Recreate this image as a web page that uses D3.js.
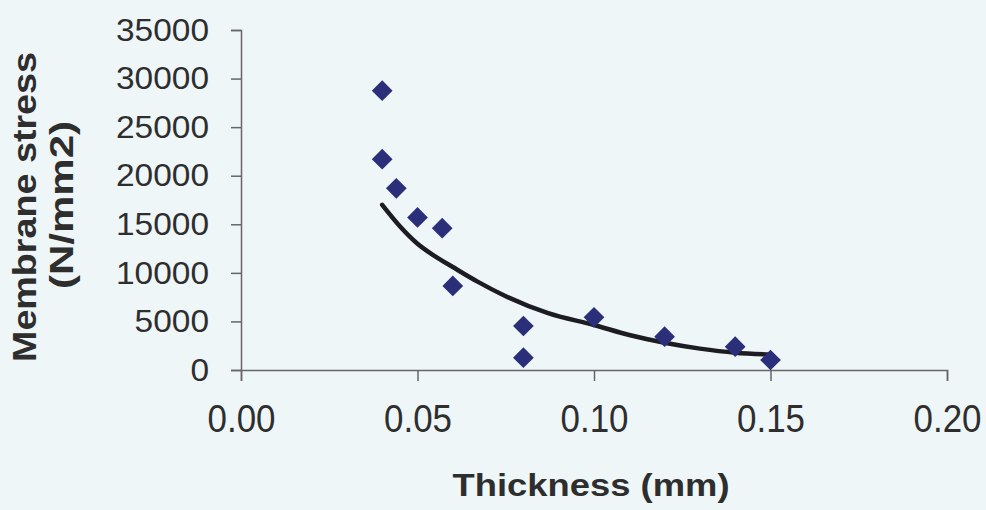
<!DOCTYPE html>
<html>
<head>
<meta charset="utf-8">
<script src="https://cdn.jsdelivr.net/npm/d3@7/dist/d3.min.js"></script>
<style>
  html, body { margin: 0; padding: 0; background: #eff6f8; }
  svg { display: block; }
</style>
</head>
<body>
<div id="chart"></div>
<script>
// ---- data ----
const thickness = [0.04, 0.04, 0.044, 0.05, 0.057, 0.06, 0.08, 0.08, 0.10, 0.12, 0.14, 0.15];
const stress    = [28750, 21700, 18700, 15700, 14600, 8650, 4530, 1270, 5420, 3430, 2400, 1030];
// trend line
const trendX = [0.04, 0.045, 0.05, 0.055, 0.06, 0.067, 0.075, 0.087, 0.10, 0.11, 0.12, 0.13, 0.14, 0.15];
const trendY = [17000, 14800, 13000, 11700, 10600, 9100, 7600, 5850, 4630, 3600, 2800, 2200, 1780, 1600];
const xTicks = [0.00, 0.05, 0.10, 0.15, 0.20];
const yTicks = [0, 5000, 10000, 15000, 20000, 25000, 30000, 35000];
const xTitle = "Thickness (mm)";
const yTitle1 = "Membrane stress";
const yTitle2 = "(N/mm2)";

const W = 986, H = 510;
const svg = d3.select("#chart").append("svg").attr("width", W).attr("height", H);
svg.append("rect").attr("width", W).attr("height", H).attr("fill", "#eff6f8");

const x = d3.scaleLinear().domain([0, 0.20]).range([241, 947]);
const y = d3.scaleLinear().domain([0, 35000]).range([370, 30]);

const axisColor = "#666";
const font = "Liberation Sans, Arial, sans-serif";

// y axis
const yAxis = svg.append("g").attr("transform", `translate(${x(0)},0)`)
  .call(d3.axisLeft(y).tickValues(yTicks).tickSize(10).tickPadding(22).tickFormat(d3.format("d")));
yAxis.select(".domain").attr("stroke", axisColor).attr("stroke-width", 1.5);
yAxis.selectAll(".tick line").attr("stroke", axisColor).attr("stroke-width", 1.5);
yAxis.selectAll(".tick text")
  .attr("fill", "#2e2e2e").attr("font-family", font)
  .attr("font-size", 32)
  .attr("textLength", d => String(d).length * 18.6)
  .attr("lengthAdjust", "spacingAndGlyphs");

// x axis
const xAxis = svg.append("g").attr("transform", `translate(0,${y(0)})`)
  .call(d3.axisBottom(x).tickValues(xTicks).tickSize(11).tickPadding(24).tickFormat(d3.format(".2f")));
xAxis.select(".domain").attr("stroke", axisColor).attr("stroke-width", 1.5);
xAxis.selectAll(".tick line").attr("stroke", axisColor).attr("stroke-width", 1.5);
xAxis.selectAll(".tick text")
  .attr("fill", "#2e2e2e").attr("font-family", font)
  .attr("font-size", 38)
  .attr("textLength", 68)
  .attr("lengthAdjust", "spacingAndGlyphs");

// trend line
const pts = trendX.map((t, i) => [t, trendY[i]]);
svg.append("path")
  .attr("d", d3.line().x(d => x(d[0])).y(d => y(d[1])).curve(d3.curveMonotoneX)(pts))
  .attr("fill", "none").attr("stroke", "#1c1c22").attr("stroke-width", 4.5).attr("stroke-linecap", "round");

// points (diamonds)
const sym = d3.symbol().type(d3.symbolSquare).size(215);
svg.append("g").selectAll("path").data(thickness.map((t, i) => [t, stress[i]]))
  .join("path")
  .attr("d", sym)
  .attr("transform", d => `translate(${x(d[0])},${y(d[1])}) rotate(45)`)
  .attr("fill", "#2b2f7a");

// titles
svg.append("text").text(xTitle)
  .attr("x", 591).attr("y", 496).attr("text-anchor", "middle")
  .attr("font-family", font).attr("font-weight", "bold")
  .attr("font-size", 32).attr("fill", "#2e2e2e")
  .attr("textLength", 277).attr("lengthAdjust", "spacingAndGlyphs");

svg.append("text").text(yTitle1)
  .attr("transform", "translate(36,207) rotate(-90)").attr("text-anchor", "middle")
  .attr("font-family", font).attr("font-weight", "bold")
  .attr("font-size", 33).attr("fill", "#2e2e2e")
  .attr("textLength", 310).attr("lengthAdjust", "spacingAndGlyphs");

svg.append("text").text(yTitle2)
  .attr("transform", "translate(73,205) rotate(-90)").attr("text-anchor", "middle")
  .attr("font-family", font).attr("font-weight", "bold")
  .attr("font-size", 33).attr("fill", "#2e2e2e")
  .attr("textLength", 168).attr("lengthAdjust", "spacingAndGlyphs");
</script>
</body>
</html>
